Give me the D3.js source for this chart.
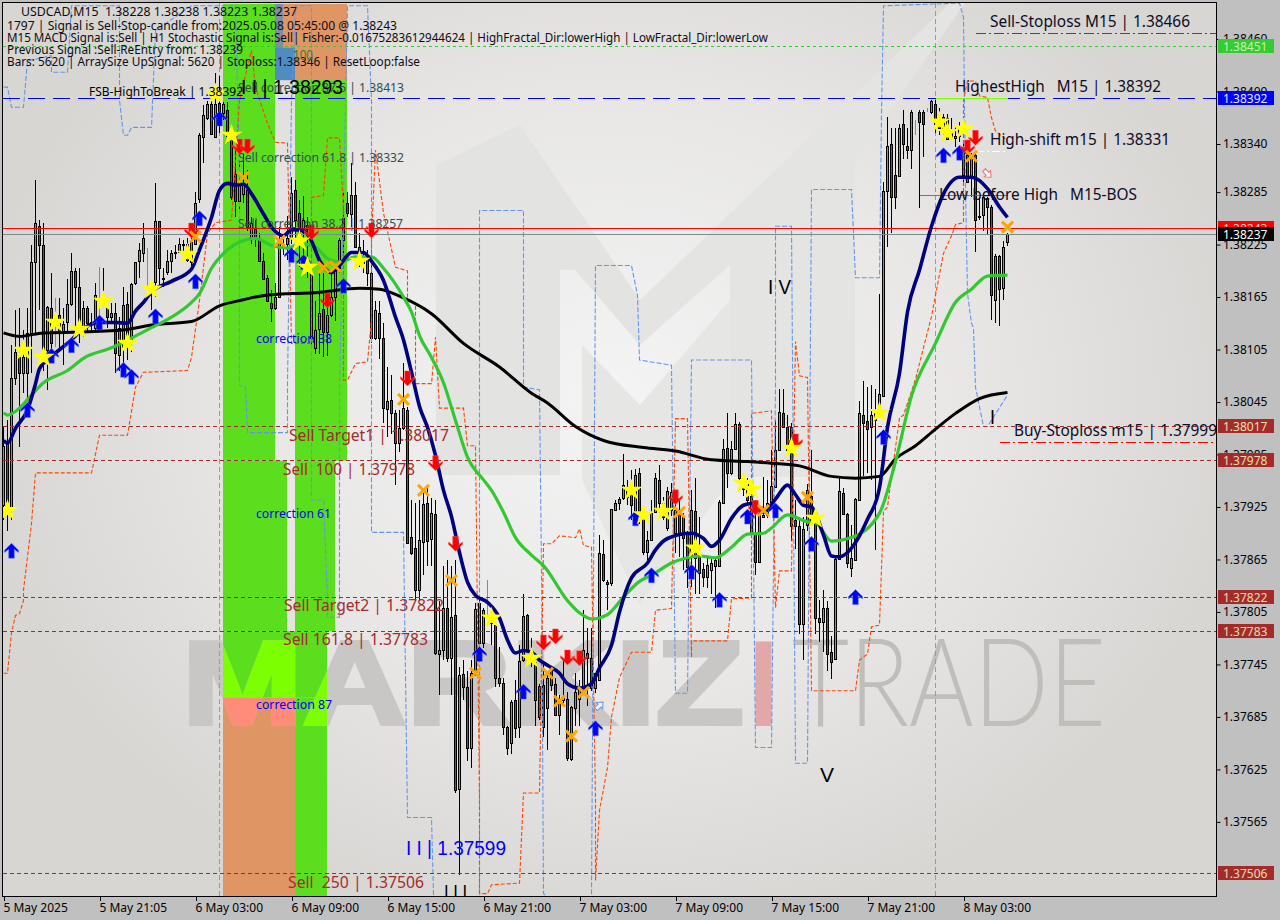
<!DOCTYPE html>
<html><head><meta charset="utf-8">
<script src="https://cdnjs.cloudflare.com/ajax/libs/d3/7.8.5/d3.min.js"></script>
<style>html,body{margin:0;padding:0;background:#c0c0c0;overflow:hidden}svg{display:block}</style>
</head><body><div id="c"></div>
<script>
// All price series are points above BASE (1 point = 0.00001)
const BASE = 1.37;
const opens = [
927,998,925,1072,1096,1078,1078,1124,1205,1246,1225,1104,
1152,1136,1144,1124,1136,1157,1195,1176,1130,1152,1134,1130,
1168,1158,1153,1142,1147,1099,1108,1157,1112,1181,1206,1215,
1196,1173,1182,1252,1187,1194,1206,1215,1216,1226,1226,1205,
1226,1277,1348,1370,1386,1348,1387,1375,1379,1355,1306,1275,
1283,1287,1233,1243,1232,1206,1187,1158,1153,1165,1222,1226,
1233,1287,1261,1239,1247,1193,1107,1129,1151,1125,1144,1165,
1198,1230,1273,1260,1282,1222,1204,1210,1192,1118,1147,1118,
1037,1047,1032,998,1015,1036,891,878,830,885,930,888,
917,757,762,809,752,801,603,734,719,649,738,815,
770,807,799,790,729,724,674,655,704,673,750,801,
752,748,720,721,695,741,723,687,704,706,637,695,
706,715,758,752,718,727,871,839,838,922,929,935,
944,944,916,964,918,874,887,919,956,930,901,921,
895,919,913,895,870,920,870,854,845,853,858,858,
930,992,964,991,1020,956,952,938,895,862,914,916,
931,948,990,1032,1016,1016,910,903,791,904,938,911,
798,793,809,759,751,865,941,917,855,864,933,1030,
1023,1016,1025,1034,1052,1286,1340,1305,1303,1363,1338,1333,
1363,1377,1377,1378,1376,1386,1367,1371,1346,1356,1347,1349,
1336,1327,1303,1327,1256,1259,1278,1268,1162,1212,1175,1228];
const highs = [
1018,1024,1110,1150,1153,1127,1153,1224,1299,1253,1250,1155,
1192,1164,1164,1152,1186,1215,1198,1198,1161,1155,1147,1181,
1199,1198,1155,1158,1158,1142,1176,1171,1181,1205,1227,1250,
1221,1184,1295,1252,1198,1219,1219,1224,1232,1230,1232,1236,
1285,1352,1384,1389,1390,1421,1418,1388,1388,1359,1333,1321,
1329,1310,1256,1253,1238,1215,1190,1173,1181,1245,1235,1258,
1302,1299,1276,1281,1256,1204,1161,1193,1193,1158,1192,1200,
1233,1285,1285,1318,1296,1238,1230,1219,1215,1161,1161,1135,
1085,1076,1036,1036,1090,1039,933,930,933,941,948,935,
933,818,858,864,858,864,742,750,738,750,815,824,
810,841,802,792,765,729,675,704,727,767,826,803,
775,752,723,746,735,741,730,710,750,713,698,735,
727,807,787,787,735,893,887,841,923,933,936,986,
956,967,968,970,927,898,933,964,973,936,948,952,
944,933,918,898,944,958,913,861,867,867,867,933,
1003,1033,1001,1032,1022,958,958,952,933,925,959,956,
990,1024,1060,1060,1030,1021,933,913,913,951,990,915,
819,830,818,778,870,959,947,918,904,935,1046,1069,
1062,1064,1060,1169,1296,1371,1358,1358,1363,1379,1358,1379,
1367,1379,1379,1381,1390,1390,1381,1374,1374,1370,1360,1365,
1342,1333,1330,1330,1279,1283,1279,1270,1214,1213,1229,1238];
const lows = [
910,898,910,1064,994,1055,1050,1078,1124,1150,1081,1059,
1093,1108,1102,1087,1124,1155,1130,1113,1119,1124,1124,1124,
1130,1155,1130,1135,1078,1081,1089,1093,1102,1179,1187,1205,
1173,1150,1165,1178,1176,1190,1192,1209,1215,1218,1205,1201,
1224,1272,1318,1367,1350,1348,1352,1367,1341,1276,1256,1261,
1273,1241,1226,1222,1205,1186,1159,1136,1150,1164,1213,1207,
1226,1233,1199,1210,1187,1107,1100,1100,1096,1098,1142,1138,
1192,1215,1256,1245,1221,1199,1192,1178,1112,1116,1094,1021,
1005,1009,950,988,1013,884,870,818,818,847,858,858,
756,710,750,748,710,598,504,704,635,627,732,763,
764,801,767,719,719,664,641,643,661,661,748,758,
742,675,681,662,647,715,687,664,696,635,635,675,
675,713,698,715,712,727,839,807,835,921,921,933,
927,910,916,906,870,864,886,918,918,910,898,915,
872,868,853,832,833,826,826,833,832,826,810,857,
929,947,962,991,956,938,927,895,847,862,912,912,
929,947,990,1015,988,886,877,780,750,898,904,780,
771,759,738,728,750,865,916,855,845,863,932,960,
964,956,876,1033,1051,1222,1238,1266,1302,1323,1323,1311,
1350,1267,1325,1376,1374,1353,1350,1344,1344,1344,1336,1342,
1296,1296,1279,1217,1253,1241,1236,1139,1135,1132,1162,1223];
const closes = [
995,925,1072,1102,1078,1096,1124,1205,1250,1225,1100,1154,
1112,1136,1124,1134,1157,1195,1176,1135,1153,1135,1136,1167,
1168,1165,1142,1147,1101,1130,1156,1116,1180,1205,1219,1233,
1196,1175,1252,1198,1186,1206,1215,1217,1226,1225,1207,1228,
1273,1350,1373,1386,1351,1386,1375,1386,1349,1279,1275,1295,
1295,1245,1250,1232,1206,1186,1161,1152,1165,1230,1226,1233,
1284,1253,1233,1253,1243,1118,1127,1147,1125,1144,1165,1198,
1230,1255,1261,1282,1222,1215,1210,1192,1118,1150,1118,1038,
1046,1032,998,1015,1038,884,872,830,887,928,886,918,
758,762,810,752,799,601,733,719,649,735,808,770,
807,807,792,729,724,673,649,702,672,749,800,761,
755,704,685,673,729,721,687,704,707,638,696,713,
719,761,752,718,735,872,841,837,923,929,934,950,
936,927,962,918,873,887,918,958,930,913,943,942,
921,895,890,856,921,867,850,845,859,861,864,931,
991,964,991,1020,958,946,933,895,862,918,916,930,
949,990,1034,1016,990,903,903,791,900,944,910,798,
794,809,757,748,865,943,917,861,867,934,1032,1021,
1014,1030,1034,1054,1286,1338,1279,1279,1358,1340,1333,1376,
1363,1365,1363,1378,1389,1363,1358,1356,1370,1348,1349,1361,
1305,1296,1327,1253,1258,1279,1268,1167,1212,1174,1222,1237];

// Moving averages: bar index + value
const navyBars = [0,1,3,6,8,9,12,17,20,24,28,31,33,35,37,42,47,49,52,54,56,58,60,62,65,67,70,72,75,77,79,82,84,87,90,92,95,98,100,102,104,106,108,110,112,114,116,118,121,124,126,128,130,132,134,136,139,141,144,147,149,152,154,157,161,163,166,172,175,177,179,182,185,187,190,193,196,198,200,202,205,207,209,212,216,219,221,224,226,229,232,235,239,242,246,249,251];
const navyVals = [1001,998,1015,1036,1066,1083,1097,1116,1129,1136,1136,1135,1149,1159,1171,1183,1197,1219,1256,1287,1295,1293,1294,1283,1260,1245,1235,1242,1241,1229,1207,1193,1201,1216,1216,1206,1184,1142,1116,1079,1040,1016,984,944,914,873,839,824,816,798,773,758,761,759,750,744,735,723,718,723,741,767,805,844,861,876,889,895,889,880,887,912,927,929,919,934,950,939,927,925,893,869,868,878,911,947,1016,1078,1148,1196,1246,1283,1302,1302,1289,1268,1256];
const greenBars = [0,1,4,7,10,16,20,27,32,37,42,47,49,52,56,59,63,67,71,74,78,81,84,88,92,95,100,102,104,107,110,113,116,120,122,125,128,132,135,141,144,147,151,155,159,162,167,171,174,178,182,186,190,192,196,201,203,207,212,219,223,227,233,238,242,246,251];
const greenVals = [1033,1030,1038,1053,1067,1081,1095,1107,1118,1130,1142,1159,1169,1198,1219,1228,1232,1224,1221,1226,1222,1209,1205,1211,1211,1198,1165,1148,1121,1096,1067,1024,982,956,944,919,890,870,858,818,804,797,802,822,840,847,861,867,869,867,879,894,895,901,916,908,907,886,890,918,977,1052,1112,1159,1174,1189,1190];
const blackBars = [0,4,10,19,31,37,47,54,60,64,72,78,89,94,99,107,115,124,132,136,143,150,160,168,177,186,192,199,207,213,219,223,228,233,238,244,251];
const blackVals = [1124,1120,1124,1125,1128,1133,1137,1155,1162,1166,1169,1170,1175,1174,1166,1146,1112,1085,1055,1044,1017,1001,993,989,979,977,975,972,960,958,960,980,995,1014,1032,1049,1056];

// Dashed step channels
const upperStepBars = [0,1,2,3,4,5,5,7,8,22,24,31,33,35,46,47,49,51,53,57,59,62,63,66,68,71,72,77,77,80,81,84,85,85,86,88,91,92,92,93,95,98,101,101,103,103,107,108,109,115,116,118,119,119,121,122,129,130,134,135,137,139,143,144,145,147,148,148,149,151,152,154,157,162,163,167,168,171,172,172,181,182,187,187,192,193,194,197,198,199,201,202,213,214,216,217,219,220,221,222,224,225,228,232,235,237,238,240,240,241,243,244,246,247,248,251];
const upperStepVals = [735,735,781,801,803,818,830,906,964,964,1007,1007,1062,1079,1081,1096,1161,1238,1250,1253,1390,1447,1405,1363,1342,1341,1112,1112,1279,1281,1347,1347,1264,1070,1070,1089,1091,1139,1233,1333,1261,1199,1195,1161,1158,1066,1066,1119,1038,1038,995,995,590,483,483,493,495,598,598,883,883,892,890,900,881,879,590,498,578,627,685,730,759,759,807,809,1026,1026,753,772,772,820,821,1032,1035,810,852,852,1114,1075,1073,715,715,750,757,788,790,920,925,959,1027,1030,1071,1143,1215,1235,1248,1250,1390,1412,1412,1395,1393,1370,1355,1344];
const lowerStepBars = [0,1,2,5,6,12,12,16,17,29,29,30,31,32,37,38,47,48,58,59,59,59,60.5,61,71,71,72,73,77,77,80,81,81,84,84,85,86,91,92,92,100,101,107,107.5,108,118,119,119,130,130,134,134.5,135,146,147,148,149,157,158.5,159,167,168,171,172,172,187,188,192,193,193,197,198,201,202,212,213,219,219.5,220,239,240,240.5,241,242,242.5,243,245,246,251];
const lowerStepVals = [1405,1405,1382,1382,1435,1441,1422,1422,1498,1498,1390,1350,1350,1359,1359,1470,1498,1498,1498,1310,1161,1064,1062,1010,1010,1067,1390,1498,1498,933,933,818,799,799,1062,1276,1498,1498,1390,896,896,570,570,483,440,440,483,1264,1264,1062,1059,853,483,440,483,1201,1201,1201,1167,1093,1087,712,712,1093,1093,1093,650,650,1062,1246,1246,632,632,1288,1288,1187,1187,1375,1498,1501,1485,1290,1169,1135,1130,1062,1017,1017,1053,1055];

// Signals
const starBars = [1,5,10,13,19,25,31,37,46,53,57,74,76,89,122,132,157,160,165,173,185,187,197,203,219,234,236,240];
const starVals = [921,1104,1096,1136,1128,1160,1112,1174,1214,1397,1350,1229,1199,1206,798,752,944,916,920,878,952,945,992,912,1033,1365,1353,1357];
const upBars = [2,6,12,17,24,38,48,49,30,32,54,72,75,85,119,130,148,158,162,172,179,186,193,202,213,220,235,239];
const upVals = [875,1036,1098,1110,1136,1143,1183,1255,1082,1074,1369,1213,1205,1178,757,714,672,912,847,851,819,914,921,883,822,1005,1327,1330];
const downBars = [47,59,61,77,92,81,101,108,113,135,138,141,144,168,188,198,243,241];
const downVals = [1241,1337,1337,1239,1241,1161,1072,975,883,770,777,753,752,936,924,1000,1347,1336];
const crossBars = [48,60,69,80,83,100,105,112,118,136,139,145,142,169,190,201,242,251];
const crossVals = [1234,1302,1229,1199,1200,1048,944,841,735,735,703,713,663,919,921,936,1326,1245];

// Levels
const axisTickPrices = [1.38460,1.38400,1.38340,1.38285,1.38225,1.38165,1.38105,1.38045,1.37985,1.37925,1.37865,1.37805,1.37745,1.37685,1.37625,1.37565];
const timeBars = [0,24,48,72,96,120,144,168,192,216,240];
const timeLabels = ["5 May 2025","5 May 21:05","6 May 03:00","6 May 09:00","6 May 15:00","6 May 21:00","7 May 03:00","7 May 09:00","7 May 15:00","7 May 21:00","8 May 03:00"];
const fibLevels = [1.38017,1.37978,1.37822,1.37783,1.37506];
const infoLines = ["USDCAD,M15  1.38228 1.38238 1.38223 1.38237","1797 | Signal is Sell-Stop-candle from:2025.05.08 05:45:00 @ 1.38243","M15 MACD Signal is:Sell | H1 Stochastic Signal is:Sell| Fisher:-0.01675283612944624 | HighFractal_Dir:lowerHigh | LowFractal_Dir:lowerLow","Previous Signal :Sell-ReEntry from: 1.38239","Bars: 5620 | ArraySize UpSignal: 5620 | Stoploss:1.38346 | ResetLoop:false"];

const W = 1280, H = 920, L = 3, R = 1216, T = 3, B = 896;
const x = d3.scaleLinear().domain([0, 251]).range([3.5, 1007.5]);
const y = d3.scaleLinear().domain([1.38392, 1.37506]).range([98.5, 873.5]);
const py = v => y(BASE + v / 1e5);

const svg = d3.select('#c').append('svg').attr('width', W).attr('height', H);
const defs = svg.append('defs');
const FONT = "'Noto Sans','Liberation Sans',sans-serif";
const SANS = "'Liberation Sans',sans-serif";
svg.append('rect').attr('width', W).attr('height', H).attr('fill', '#c0c0c0');

const bg = defs.append('radialGradient').attr('id', 'bg').attr('gradientUnits', 'userSpaceOnUse')
  .attr('cx', 610).attr('cy', 400).attr('r', 640).attr('gradientTransform', 'translate(610 400) scale(1 .85) translate(-610 -400)');
bg.append('stop').attr('offset', 0).attr('stop-color', '#f4f4f4');
bg.append('stop').attr('offset', .55).attr('stop-color', '#e8e7e6');
bg.append('stop').attr('offset', 1).attr('stop-color', '#d8d6d3');
defs.append('clipPath').attr('id', 'plot').append('rect').attr('x', L).attr('y', T).attr('width', R - L).attr('height', B - T);

const plot = svg.append('g').attr('clip-path', 'url(#plot)');
plot.append('rect').attr('x', L).attr('y', T).attr('width', R - L).attr('height', B - T).attr('fill', 'url(#bg)');

// Background logo
const logoPolys = [
  {p:'436,165 520,125 640,300 640,345 575,270 560,270 560,475 436,475', f:'#e3e3e2'},
  {p:'640,300 950,3 965,3 855,160 855,477 730,477 730,265 640,345', f:'#e4e4e3'},
  {p:'582,345 640,405 730,300 730,480 640,605 582,480', f:'#e6e6e5'},
];
logoPolys.forEach(d => plot.append('polygon').attr('points', d.p).attr('fill', d.f));

// Bands: bar range + price range in points
const greenBands = [[55,68,1500,978],[55,71,978,783],[73,86,1413,978],[73,83,978,783],[55,81,783,707],[73,81,707,470]];
const orangeBands = [[55,73,707,470],[70,86,1500,1413]];
const bandRect = (sel, b) => sel.attr('x', x(b[0]) - .5).attr('width', x(b[1]) - x(b[0]))
  .attr('y', py(b[2])).attr('height', py(b[3]) - py(b[2]));
greenBands.forEach(b => bandRect(plot.append('rect'), b).attr('fill', '#5ade1e'));
orangeBands.forEach(b => bandRect(plot.append('rect'), b).attr('fill', '#e09664'));
bandRect(plot.append('rect'), [68,73,1500,1413]).attr('fill', '#4e8cc2');
bandRect(plot.append('rect'), [68,70,1500,1450]).attr('fill', '#7f8ea3');
bandRect(plot.append('rect'), [70,73,1500,1450]).attr('fill', '#e09664');

// Watermark
const cg = defs.append('clipPath').attr('id', 'cg');
greenBands.forEach(b => bandRect(cg.append('rect'), b));
const co = defs.append('clipPath').attr('id', 'co');
bandRect(co.append('rect'), orangeBands[0]);
const mark = (g, fill) => g.append('text').text('MARKIZ').attr('x', 182).attr('y', 724)
  .attr('font-family', SANS).attr('font-weight', 700).attr('font-size', 119)
  .attr('textLength', 562).attr('lengthAdjust', 'spacingAndGlyphs').attr('fill', fill)
  .attr('stroke', fill).attr('stroke-width', 4).attr('stroke-linejoin', 'miter');
mark(plot, '#c8c7c5');
mark(plot.append('g').attr('clip-path', 'url(#cg)'), '#7cff00');
mark(plot.append('g').attr('clip-path', 'url(#co)'), '#ff8c78');
plot.append('text').text('I').attr('x', 748).attr('y', 726).attr('font-family', SANS)
  .attr('font-weight', 700).attr('font-size', 122).attr('textLength', 31).attr('lengthAdjust', 'spacingAndGlyphs').attr('fill', '#e2a8a8');
plot.append('text').text('TRADE').attr('x', 792).attr('y', 726).attr('font-family', "Lato,sans-serif")
  .attr('font-weight', 300).attr('font-size', 122).attr('textLength', 314).attr('lengthAdjust', 'spacingAndGlyphs').attr('fill', '#bfbebb');

// Vertical session markers
[54, 233].forEach(b => plot.append('line').attr('x1', x(b)).attr('x2', x(b)).attr('y1', T).attr('y2', B)
  .attr('stroke', '#ea6fa8').attr('stroke-dasharray', '5,3'));

// Candles
const cand = plot.append('g').attr('shape-rendering', 'crispEdges');
opens.forEach((o, i) => {
  const c = closes[i], doji = o === c;
  cand.append('line').attr('x1', x(i)).attr('x2', x(i)).attr('y1', py(highs[i])).attr('y2', py(lows[i]))
    .attr('stroke', doji ? '#3cb85f' : '#000');
  if (doji) return;
  const t = Math.round(py(Math.max(o, c))) + .5, b = Math.round(py(Math.min(o, c))) + .5;
  cand.append('rect').attr('x', x(i) - 1).attr('width', 2).attr('y', t).attr('height', Math.max(b - t, 1))
    .attr('fill', c > o ? '#2fc56f' : '#c02b45').attr('stroke', '#000').attr('stroke-width', 1);
});

// Step channels
const linePts = (bars, vals) => bars.map((b, i) => [x(b), py(vals[i])]);
plot.append('path').attr('d', d3.line()(linePts(lowerStepBars, lowerStepVals))).attr('fill', 'none')
  .attr('stroke', '#6495ed').attr('stroke-width', 1.1).attr('stroke-dasharray', '5,2');
plot.append('path').attr('d', d3.line()(linePts(upperStepBars, upperStepVals))).attr('fill', 'none')
  .attr('stroke', '#ff4500').attr('stroke-width', 1.1).attr('stroke-dasharray', '4,2');

// Horizontal levels
const row = p => Math.floor(y(p)) + .5;
const hline = (p, x1, x2, col, dash, w) => plot.append('line').attr('x1', x1).attr('x2', x2).attr('y1', row(p)).attr('y2', row(p))
  .attr('stroke', col).attr('stroke-dasharray', dash).attr('stroke-width', w || 1).attr('shape-rendering', 'crispEdges');
hline(1.38451, L, R, '#32cd32', '3,3');
hline(1.38392, L, R, '#0000ff', '17,8');
fibLevels.forEach(p => hline(p, L, R, '#a52a2a', '4,3'));
hline(1.38237, L, R, '#808890', null);
hline(1.38243, L, R, '#ff0000', null);
hline(1.38466, x(243), R, '#ff0000', '10,3,2,3');
hline(1.37999, x(249), R, '#ff0000', '10,3,2,3');
hline(1.38392, x(233), x(251), '#7fff00', null, 1.5);
hline(1.38281, x(229), x(251), '#ff4500', null, 1.2);
hline(1.38331, x(243), x(251), '#ffffff', '8,3,2,3');

// Moving averages
const curve = d3.line().curve(d3.curveMonotoneX);
[[blackBars, blackVals, '#000000', 3], [greenBars, greenVals, '#32c832', 3.2], [navyBars, navyVals, '#000080', 3.6]]
  .forEach(([b, v, col, w]) => plot.append('path').attr('d', curve(linePts(b, v))).attr('fill', 'none').attr('stroke', col).attr('stroke-width', w));

// Signal markers
const arrow = 'M0,-7.5L7,-.5L7,1.8L2.8,-1.5L2.8,7.5L-2.8,7.5L-2.8,-1.5L-7,1.8L-7,-.5Z';
upBars.forEach((b, i) => plot.append('path').attr('d', arrow).attr('transform', `translate(${x(b)},${py(upVals[i])})`).attr('fill', '#0000ff').attr('stroke', '#5a78e0').attr('stroke-width', .5));
downBars.forEach((b, i) => plot.append('path').attr('d', arrow).attr('transform', `translate(${x(b)},${py(downVals[i])}) scale(1,-1)`).attr('fill', '#ff0000').attr('stroke', '#ff5a5a').attr('stroke-width', .5));
const star = d3.symbol(d3.symbolStar, 150)();
starBars.forEach((b, i) => plot.append('path').attr('d', star).attr('transform', `translate(${x(b)},${py(starVals[i])})`).attr('fill', '#ffff00'));
crossBars.forEach((b, i) => plot.append('path').attr('d', 'M-5.5,-5.5L5.5,5.5M-5.5,5.5L5.5,-5.5').attr('transform', `translate(${x(b)},${py(crossVals[i])})`).attr('stroke', '#ffa500').attr('stroke-width', 3).attr('fill', 'none'));
const hollowBars = [149, 246], hollowVals = [698, 1306], hollowRot = [45, 135], hollowCol = ['#6495ed', '#f07070'];
hollowBars.forEach((b, i) => plot.append('path').attr('d', 'M0,-5L4.5,0L2,0L2,5L-2,5L-2,0L-4.5,0Z')
  .attr('transform', `translate(${x(b)},${py(hollowVals[i])}) rotate(${hollowRot[i]})`).attr('fill', '#f4f4f4').attr('stroke', hollowCol[i]));

// Annotations
const labels = plot.append('g').attr('font-family', FONT);
const txt = (s, xx, yy, len, size, col, fam) => labels.append('text').text(s).attr('x', xx).attr('y', yy).attr('font-size', size)
  .attr('fill', col).attr('textLength', len).attr('lengthAdjust', 'spacingAndGlyphs').attr('font-family', fam || FONT).style('white-space', 'pre');
const infoLayout = [[21,16,276],[7,30,390],[7,42,761],[7,54,236],[7,66,413]];
infoLines.forEach((s, i) => txt(s, infoLayout[i][0], infoLayout[i][1], infoLayout[i][2], 12, '#0c0c14'));
const sellNames = ['Sell Target1 | 1.38017','Sell  100 | 1.37978','Sell Target2 | 1.37822','Sell 161.8 | 1.37783','Sell  250 | 1.37506'];
[[289,441,160],[283,475,132],[284,611,160],[283,645,145],[288,888,136]].forEach((l, i) => txt(sellNames[i], l[0], l[1], l[2], 16, '#a52a2a'));
const corrNames = ['Sell correction 87.5 | 1.38413','Sell correction 61.8 | 1.38332','Sell correction 38.2 | 1.38257'];
[[238,92,166],[238,162,166],[238,228,165]].forEach((l, i) => txt(corrNames[i], l[0], l[1], l[2], 12.5, '#2f4f4f'));
const blueNames = ['correction 38','correction 61','correction 87'];
[[256,343,76],[256,518,75],[256,709,76]].forEach((l, i) => txt(blueNames[i], l[0], l[1], l[2], 12.5, '#0000ff'));
const rightNames = ['Sell-Stoploss M15 | 1.38466','HighestHigh   M15 | 1.38392','High-shift m15 | 1.38331','Low before High   M15-BOS','Buy-Stoploss m15 | 1.37999'];
[[990,27,200],[955,92,206],[990,145,180],[939,200,198],[1014,436,203]].forEach((l, i) => txt(rightNames[i], l[0], l[1], l[2], 16, '#0c0c28'));
txt('FSB-HighToBreak | 1.38392', 89, 96, 154, 12.5, '#000');
txt('100', 293, 60, 20, 14, '#3a7a3a');
txt('I I | 1.38293', 241, 94, 102, 20, '#000', SANS);
txt('I I | 1.37599', 406, 855, 100, 20, '#0000ff', SANS);
txt('I V', 768, 294, 23, 20, '#000', SANS);
txt('V', 820, 782, 14, 20, '#000', SANS);
txt('I', 990, 424, 5, 20, '#000', SANS);
txt('I I I', 444, 899, 23, 20, '#000', SANS);

// Axes
const ax = svg.append('g');
ax.append('rect').attr('x', R).attr('y', 0).attr('width', W - R).attr('height', H).attr('fill', '#c0c0c0');
ax.append('rect').attr('x', 0).attr('y', B).attr('width', W).attr('height', H - B).attr('fill', '#c0c0c0');
const fr = ax.append('g').attr('shape-rendering', 'crispEdges').attr('stroke', '#000');
fr.append('line').attr('x1', 2.5).attr('x2', 2.5).attr('y1', 2).attr('y2', B);
fr.append('line').attr('x1', 2).attr('x2', R).attr('y1', 2.5).attr('y2', 2.5);
fr.append('line').attr('x1', R + .5).attr('x2', R + .5).attr('y1', 2).attr('y2', B + 1);
fr.append('line').attr('x1', 2).attr('x2', R + 1).attr('y1', B + .5).attr('y2', B + .5);

const yAxis = ax.append('g').attr('transform', `translate(${R + .5},0)`)
  .call(d3.axisRight(y).tickValues(axisTickPrices).tickFormat(d3.format('.5f')).tickSize(4).tickPadding(2));
yAxis.select('.domain').remove();
yAxis.selectAll('text').attr('font-family', FONT).attr('font-size', 12).attr('fill', '#000').attr('x', 6.5);
const xAxis = ax.append('g').attr('transform', `translate(0,${B + .5})`)
  .call(d3.axisBottom(x).tickValues(timeBars).tickFormat((d, i) => timeLabels[i]).tickSize(4));
xAxis.select('.domain').remove();
xAxis.selectAll('line').attr('shape-rendering', 'crispEdges');
xAxis.selectAll('text').attr('font-family', FONT).attr('font-size', 12).attr('fill', '#000')
  .attr('text-anchor', 'start').attr('dx', -.5).attr('y', 7).attr('dy', '.71em');

// Price tags
const tagPrices = [1.38451,1.38392,1.38243,1.38237,1.38017,1.37978,1.37822,1.37783,1.37506];
const tagFills = ['#32cd32','#0000ff','#ff0000','#000000','#a52a2a','#a52a2a','#a52a2a','#a52a2a','#a52a2a'];
const tagText = ['#d0ecb0','#e8e8ff','#ffc0c0','#ffffff','#e6e0b0','#e6e0b0','#e6e0b0','#e6e0b0','#e6e0b0'];
tagPrices.forEach((p, i) => {
  const c = Math.floor(y(p));
  ax.append('rect').attr('x', 1218).attr('y', c - 7).attr('width', 56).attr('height', 14).attr('fill', tagFills[i]);
  ax.append('text').text(p.toFixed(5)).attr('x', 1223).attr('y', c + 4.5).attr('font-family', FONT).attr('font-size', 12).attr('fill', tagText[i]);
});
</script></body></html>
